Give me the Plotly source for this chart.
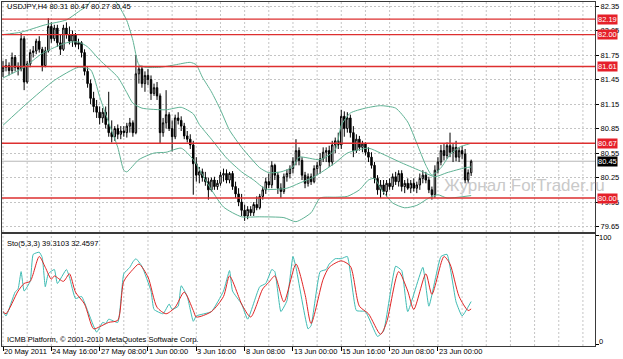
import plotly.graph_objects as go

# ---------------- data ----------------
symbol = "USDJPY,H4"
bar_open = [81.55,81.60,81.62,81.56,81.72,81.60,81.58,81.95,81.42,81.64,
            81.78,81.80,81.92,81.82,81.62,81.80,82.10,81.95,82.08,81.90,
            81.82,82.08,82.00,81.92,82.00,81.88,81.90,81.78,81.55,81.40,
            81.22,81.12,81.05,80.98,81.05,80.90,80.80,80.75,80.85,80.78,
            80.82,80.80,80.88,80.92,80.80,81.52,81.58,81.40,81.50,81.45,
            81.28,81.35,81.25,80.80,80.92,81.02,80.85,80.75,80.98,80.95,
            80.88,80.76,80.72,80.65,80.42,80.28,80.32,80.25,80.20,80.10,
            80.22,80.14,80.18,80.28,80.30,80.22,80.30,80.14,80.05,79.95,
            79.85,79.78,79.86,79.82,79.92,79.88,80.02,80.10,80.20,80.16,
            80.40,80.28,80.12,80.08,80.26,80.30,80.36,80.45,80.58,80.46,
            80.28,80.18,80.26,80.20,80.36,80.40,80.48,80.56,80.58,80.44,
            80.65,80.70,80.65,81.00,80.85,80.98,80.80,80.58,80.72,80.62,
            80.66,80.56,80.50,80.40,80.24,80.10,80.16,80.08,80.18,80.14,
            80.26,80.20,80.30,80.14,80.18,80.12,80.18,80.12,80.16,80.24,
            80.28,80.22,80.10,80.04,80.34,80.44,80.58,80.52,80.64,80.56,
            80.62,80.50,80.58,80.54,80.22,80.31]
bar_high = [81.68,81.70,81.66,81.78,81.75,81.66,82.02,81.98,81.68,81.82,
            81.86,81.95,81.98,81.85,81.85,82.20,82.15,82.12,82.12,82.00,
            82.12,82.15,82.10,82.05,82.02,81.95,81.92,81.82,81.60,81.45,
            81.30,81.20,81.12,81.10,81.12,81.30,80.95,80.88,80.90,80.88,
            80.88,80.92,80.98,80.95,81.75,81.62,81.62,81.55,81.58,81.50,
            81.40,81.42,81.28,80.98,81.32,81.05,80.95,81.02,81.05,81.00,
            80.92,80.82,80.78,80.70,80.50,80.38,80.36,80.32,80.25,80.25,
            80.26,80.22,80.32,80.36,80.35,80.32,80.33,80.20,80.12,80.05,
            79.92,79.90,79.90,79.95,80.02,80.05,80.14,80.25,80.30,80.45,
            80.42,80.32,80.18,80.30,80.35,80.40,80.50,80.72,80.62,80.50,
            80.32,80.30,80.30,80.40,80.44,80.55,80.62,80.62,80.64,80.70,
            80.74,80.80,81.08,81.06,81.05,81.02,80.88,80.78,80.76,80.70,
            80.68,80.62,80.56,80.44,80.28,80.22,80.22,80.22,80.24,80.30,
            80.32,80.34,80.34,80.22,80.24,80.22,80.24,80.20,80.30,80.34,
            80.32,80.26,80.14,80.40,80.50,80.65,80.66,80.68,80.80,80.66,
            80.70,80.62,80.64,80.60,80.35,80.47]
bar_low = [81.48,81.55,81.50,81.52,81.55,81.50,81.55,81.32,81.40,81.60,
           81.72,81.76,81.78,81.55,81.60,81.78,81.90,81.92,81.85,81.75,
           81.80,81.95,81.88,81.85,81.85,81.82,81.72,81.50,81.35,81.15,
           81.05,80.98,80.90,80.92,80.85,80.75,80.68,80.70,80.72,80.72,
           80.75,80.74,80.80,80.75,80.78,81.40,81.35,81.30,81.38,81.20,
           81.25,81.20,80.67,80.75,80.85,80.82,80.57,80.72,80.90,80.82,
           80.72,80.68,80.60,80.04,80.20,80.18,80.20,80.15,79.98,80.08,
           80.10,80.10,80.15,80.20,80.18,80.18,80.10,80.00,79.90,79.78,
           79.72,79.74,79.78,79.78,79.85,79.86,79.98,80.05,80.12,80.12,
           80.22,80.05,80.00,80.05,80.20,80.24,80.30,80.40,80.40,80.22,
           80.12,80.14,80.16,80.18,80.28,80.30,80.44,80.44,80.38,80.40,
           80.55,80.60,80.60,80.75,80.80,80.74,80.50,80.55,80.58,80.56,
           80.52,80.44,80.36,80.18,80.04,80.00,80.04,80.02,80.10,80.10,
           80.16,80.14,80.08,80.06,80.10,80.06,80.08,80.06,80.10,80.18,
           80.18,80.06,79.98,80.00,80.30,80.40,80.46,80.48,80.50,80.44,
           80.45,80.44,80.48,80.18,80.18,80.27]
bar_close = [81.60,81.62,81.56,81.72,81.60,81.58,81.95,81.42,81.64,81.78,
             81.80,81.92,81.82,81.62,81.80,82.10,81.95,82.08,81.90,81.82,
             82.08,82.00,81.92,82.00,81.88,81.90,81.78,81.55,81.40,81.22,
             81.12,81.05,80.98,81.05,80.90,80.80,80.75,80.85,80.78,80.82,
             80.80,80.88,80.92,80.80,81.52,81.58,81.40,81.50,81.45,81.28,
             81.35,81.25,80.80,80.92,81.02,80.85,80.75,80.98,80.95,80.88,
             80.76,80.72,80.65,80.42,80.28,80.32,80.25,80.20,80.10,80.22,
             80.14,80.18,80.28,80.30,80.22,80.30,80.14,80.05,79.95,79.85,
             79.78,79.86,79.82,79.92,79.88,80.02,80.10,80.20,80.16,80.40,
             80.28,80.12,80.08,80.26,80.30,80.36,80.45,80.58,80.46,80.28,
             80.18,80.26,80.20,80.36,80.40,80.48,80.56,80.58,80.44,80.65,
             80.70,80.65,81.00,80.85,80.98,80.80,80.58,80.72,80.62,80.66,
             80.56,80.50,80.40,80.24,80.10,80.16,80.08,80.18,80.14,80.26,
             80.20,80.30,80.14,80.18,80.12,80.18,80.12,80.16,80.24,80.28,
             80.22,80.10,80.04,80.34,80.44,80.58,80.52,80.64,80.56,80.62,
             80.50,80.58,80.54,80.22,80.31,80.45]

# Bollinger bands (bar index, price)
bb_up_idx = [0,6,14,21,25,28,30,34,38,41,43,45,47,52,57,62,64,66,69,72,
             75,79,82,85,88,92,96,98,105,110,112,115,120,125,130,134,137,140,142,145,
             148,151,155]
bb_up_val = [82.00,82.03,82.12,82.18,82.28,82.36,82.45,82.52,82.37,82.17,
             81.93,81.63,81.60,81.60,81.63,81.66,81.63,81.48,81.30,81.08,
             80.83,80.62,80.49,80.37,80.31,80.32,80.38,80.50,80.47,80.59,
             80.89,81.04,81.10,81.13,81.10,80.93,80.67,80.40,80.28,80.37,
             80.53,80.62,80.67]
bb_mid_idx = [0,7,13,21,25,28,32,38,41,43,46,54,59,63,65,69,74,79,83,87,
              94,98,103,110,114,121,125,132,139,143,147,153,155]
bb_mid_val = [81.47,81.60,81.77,81.90,81.91,81.85,81.69,81.48,81.29,81.16,
              81.10,81.08,81.11,81.03,80.90,80.72,80.49,80.32,80.22,80.11,
              80.12,80.18,80.26,80.43,80.55,80.61,80.55,80.43,80.32,80.26,
              80.31,80.37,80.38]
bb_low_idx = [0,8,17,25,29,32,35,38,40,41,45,50,54,59,63,68,73,79,85,93,
              97,102,105,110,114,118,121,123,125,129,133,137,141,144,147,155]
bb_low_val = [80.89,81.16,81.44,81.60,81.57,81.24,80.92,80.62,80.34,80.32,
              80.47,80.55,80.56,80.61,80.47,80.16,79.89,79.77,79.77,79.76,
              79.71,79.82,80.00,80.01,80.02,80.10,80.22,80.24,80.12,79.94,
              79.88,79.91,80.00,80.04,80.00,80.03]

# Stochastic (5,3,3)
sto_main_idx = [0,1,4,5,6,7,9,10,12,13,14,15,17,18,21,22,24,26,28,31,
                33,34,35,38,40,42,43,44,46,49,50,53,55,56,58,59,61,63,64,69,
                73,75,76,79,81,85,87,89,90,92,94,96,97,101,102,105,107,108,110,112,
                114,117,120,124,126,130,132,134,139,141,145,147,150,152,155]
sto_main_val = [30,26,48,51,67,49,58,83,85,80,53,65,69,56,69,62,42,44,31,11,
                20,19,23,20,65,71,76,79,72,49,32,28,37,32,35,54,44,21,26,30,
                49,68,49,37,23,53,56,69,67,30,40,81,71,14,17,67,69,74,79,79,
                81,31,30,7,12,72,68,30,71,35,81,83,39,26,39.3103]
sto_sig_idx = [0,1,5,7,9,12,14,16,17,20,22,24,27,30,32,35,38,40,43,45,
               48,51,54,57,60,63,64,69,73,75,78,79,82,86,88,90,93,97,100,102,
               106,108,112,115,118,121,125,127,131,134,136,140,142,146,148,151,154,155]
sto_sig_val = [30,28,49,56,58,81,71,60,63,58,65,48,37,14,16,20,22,58,69,74,
               62,34,28,34,48,31,25,30,44,63,44,37,25,51,57,63,39,74,46,19,
               60,71,77,72,35,28,9,20,67,49,32,65,46,81,74,44,31,32.4597]

level_lines = [82.19, 82.00, 81.61, 80.67, 80.00]
price_ticks = [79.65, 79.95, 80.25, 80.55, 80.85, 81.15, 81.45, 81.75, 82.05, 82.35]
time_label_bars = [0, 16, 32, 48, 64, 80, 96, 112, 128, 144]
time_labels = ["20 May 2011", "24 May 16:00", "27 May 08:00", "1 Jun 00:00", "3 Jun 16:00",
               "8 Jun 08:00", "13 Jun 00:00", "15 Jun 16:00", "20 Jun 08:00", "23 Jun 00:00"]

# ---------------- styling ----------------
FONT = "Liberation Sans, Arial, sans-serif"
FS = 7.5
GRID = "#c4c4c4"
AX = "#3a3a3a"
BB = "#5fb294"
RED = "#dd2f2f"
XR = [-0.33, 196.0]

n = len(bar_close)
bars = list(range(n))

fig = go.Figure()

# vertical dotted grid in both panels
for g in range(0, 197, 8):
    for xr, yr in (("x", "y domain"), ("x2", "y2 domain")):
        fig.add_shape(type="line", xref=xr, yref=yr, x0=g, x1=g, y0=0, y1=1,
                      line=dict(color=GRID, width=1, dash="2px,2px"), layer="below")

# current price line
fig.add_shape(type="line", xref="x domain", yref="y", x0=0, x1=1,
              y0=bar_close[-1], y1=bar_close[-1], line=dict(color="#b8b8b8", width=1), layer="below")

# red levels
for lv in level_lines:
    fig.add_shape(type="line", xref="x domain", yref="y", x0=0, x1=1, y0=lv, y1=lv,
                  line=dict(color=RED, width=1.4), layer="above")

for idx, val in ((bb_up_idx, bb_up_val), (bb_mid_idx, bb_mid_val), (bb_low_idx, bb_low_val)):
    fig.add_trace(go.Scatter(x=idx, y=val, mode="lines", xaxis="x", yaxis="y",
                             line=dict(color=BB, width=1, shape="spline", smoothing=0.6),
                             hoverinfo="skip"))

fig.add_trace(go.Candlestick(x=bars, open=bar_open, high=bar_high, low=bar_low, close=bar_close,
                             xaxis="x", yaxis="y", whiskerwidth=0,
                             increasing=dict(line=dict(color="black", width=1), fillcolor="white"),
                             decreasing=dict(line=dict(color="black", width=1), fillcolor="black"),
                             hoverinfo="skip"))

fig.add_trace(go.Scatter(x=sto_main_idx, y=sto_main_val, mode="lines", xaxis="x2", yaxis="y2",
                         line=dict(color="#3fbcb4", width=1, shape="spline", smoothing=0.4),
                         hoverinfo="skip"))
fig.add_trace(go.Scatter(x=sto_sig_idx, y=sto_sig_val, mode="lines", xaxis="x2", yaxis="y2",
                         line=dict(color="#e02424", width=1, shape="spline", smoothing=0.7),
                         hoverinfo="skip"))

ann = []
# time labels
for b, t in zip(time_label_bars, time_labels):
    ann.append(dict(x=b, xref="x2", y=0, yref="paper", text=t, showarrow=False,
                    xanchor="left", yanchor="top", xshift=-1, yshift=1,
                    font=dict(family=FONT, size=FS, color="black")))
# level boxes
for lv in level_lines:
    ann.append(dict(x=1, xref="paper", y=lv, yref="y", text=f"{lv:.2f}", showarrow=False,
                    xanchor="left", yanchor="middle", xshift=2, bgcolor="#e5202a", borderpad=0,
                    font=dict(family=FONT, size=FS, color="white")))
ann.append(dict(x=1, xref="paper", y=bar_close[-1], yref="y", text=f"{bar_close[-1]:.2f}",
                showarrow=False, xanchor="left", yanchor="middle", xshift=2, bgcolor="black",
                borderpad=0, font=dict(family=FONT, size=FS, color="white")))
# stochastic scale labels
ann.append(dict(x=1, xref="paper", y=100, yref="y2", text="100", showarrow=False,
                xanchor="left", yanchor="middle", xshift=2, yshift=-2,
                font=dict(family=FONT, size=FS, color="black")))
ann.append(dict(x=1, xref="paper", y=0, yref="y2", text="0", showarrow=False,
                xanchor="left", yanchor="middle", xshift=2, yshift=3,
                font=dict(family=FONT, size=FS, color="black")))
# headers
ann.append(dict(x=0, xref="paper", y=0.986, yref="paper", showarrow=False, xanchor="left",
                yanchor="middle", xshift=3,
                text=f"{symbol} {bar_open[-1]:.2f} {bar_high[-1]:.2f} {bar_low[-1]:.2f} {bar_close[-1]:.2f}",
                font=dict(family=FONT, size=FS, color="black")))
ann.append(dict(x=0, xref="paper", y=0.2994, yref="paper", showarrow=False, xanchor="left",
                yanchor="middle", xshift=3,
                text=f"Sto(5,3,3) {sto_main_val[-1]:.4f} {sto_sig_val[-1]:.4f}",
                font=dict(family=FONT, size=FS, color="black")))
ann.append(dict(x=0, xref="paper", y=0.0203, yref="paper", showarrow=False, xanchor="left",
                yanchor="middle", xshift=3,
                text="ICMB Platform, © 2001-2010 MetaQuotes Software Corp.",
                font=dict(family=FONT, size=FS, color="black")))
# watermark
ann.append(dict(x=0.742, xref="paper", y=0.468, yref="paper", showarrow=False, xanchor="left",
                yanchor="middle", text="Журнал ForTrader.ru",
                font=dict(family=FONT, size=17, color="#c9c9c9")))

fig.update_layout(
    width=623, height=359, margin=dict(l=2, r=28, t=2, b=13),
    paper_bgcolor="white", plot_bgcolor="white", showlegend=False, hovermode=False,
    annotations=ann,
    xaxis=dict(domain=[0, 1], anchor="y", range=XR, showticklabels=False, ticks="",
               showgrid=False, zeroline=False, showline=True, linecolor=AX, linewidth=1,
               mirror=True, rangeslider=dict(visible=False)),
    yaxis=dict(domain=[0.3314, 1], anchor="x", side="right", range=[79.584, 82.399],
               tickmode="array", tickvals=price_ticks, ticktext=[f"{v:.2f}" for v in price_ticks],
               ticks="outside", ticklen=3, tickcolor="black",
               tickfont=dict(family=FONT, size=FS, color="black"),
               showgrid=True, gridcolor=GRID, griddash="2px,2px", gridwidth=1,
               zeroline=False, showline=True, linecolor=AX, linewidth=1, mirror=True),
    xaxis2=dict(domain=[0, 1], anchor="y2", range=XR, tickmode="array", tickvals=time_label_bars,
                showticklabels=False, ticks="outside", ticklen=4, tickcolor="black",
                showgrid=False, zeroline=False, showline=True, linecolor=AX, linewidth=1,
                mirror=True),
    yaxis2=dict(domain=[0, 0.3256], anchor="x2", side="right", range=[-1.85, 101.85],
                tickmode="array", tickvals=[0, 100], showticklabels=False, ticks="outside",
                ticklen=3, tickcolor="black", showgrid=False, zeroline=False,
                showline=True, linecolor=AX, linewidth=1, mirror=True),
)

fig.write_html("out.html")
